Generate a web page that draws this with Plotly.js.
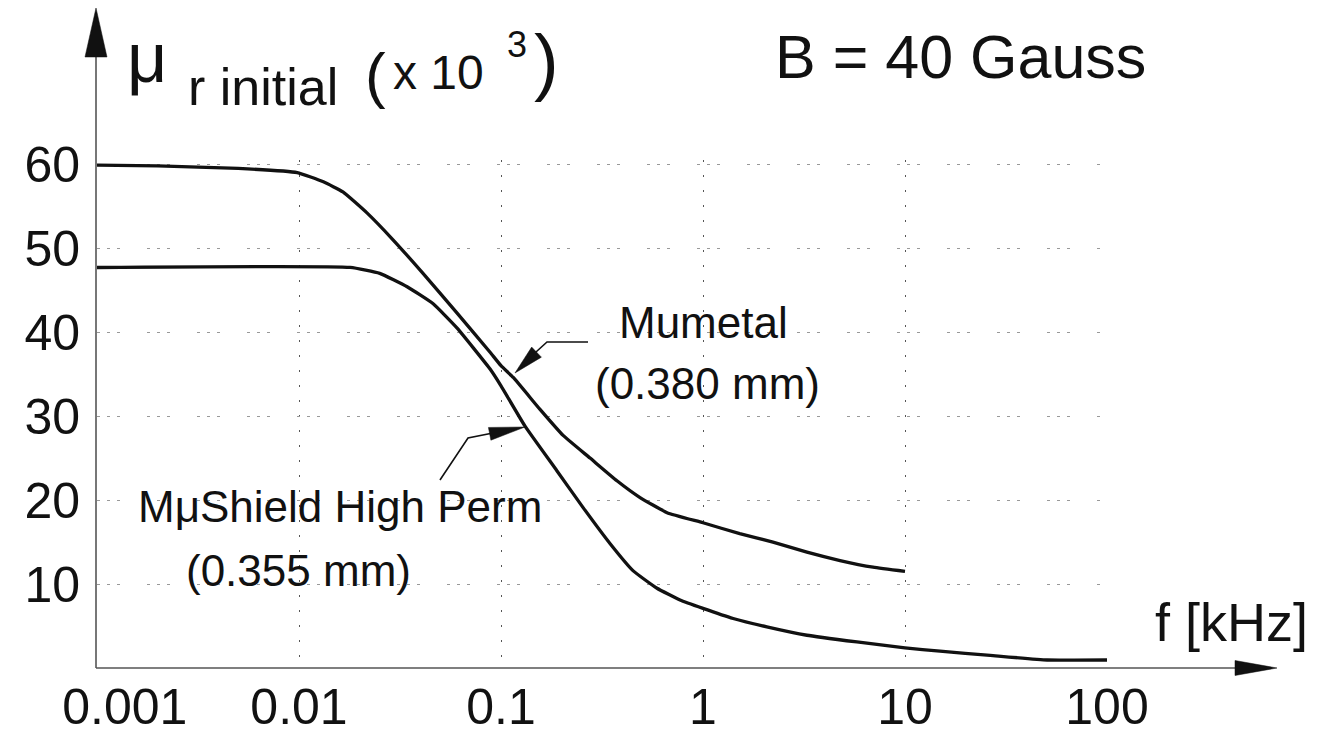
<!DOCTYPE html>
<html>
<head>
<meta charset="utf-8">
<script src="https://cdn.plot.ly/plotly-3.0.1.min.js"></script>
<style>
  html, body { margin: 0; padding: 0; background: #fff; }
  #chart { width: 1317px; height: 734px; }
</style>
</head>
<body>
<div id="chart"></div>
<script>
// ---- data ----
const mumetalFreq = [0.001, 0.002, 0.005, 0.0098, 0.0132, 0.0165, 0.0217, 0.0292, 0.0411, 0.0605, 0.0883, 0.1, 0.115, 0.156, 0.203, 0.276, 0.375, 0.488, 0.664, 1.0, 1.52, 2.22, 3.27, 4.77, 6.95, 10];
const mumetalMu   = [59.9, 59.8, 59.5, 59.0, 57.9, 56.7, 54.2, 51.0, 47.0, 42.3, 37.6, 36.0, 34.6, 30.8, 27.7, 25.0, 22.3, 20.3, 18.5, 17.3, 16.0, 15.0, 13.8, 12.8, 12.0, 11.5];

const mushieldFreq = [0.001, 0.0179, 0.0251, 0.0343, 0.046, 0.0605, 0.0883, 0.1, 0.1315, 0.189, 0.255, 0.347, 0.45, 0.592, 0.77, 1.0, 1.41, 2.07, 3.27, 5.78, 10, 14.9, 26.4, 50.5, 100];
const mushieldMu   = [47.7, 47.7, 47.0, 45.4, 43.4, 40.5, 35.6, 33.6, 28.8, 23.5, 19.1, 14.8, 11.6, 9.5, 8.1, 7.1, 5.9, 4.9, 3.9, 3.1, 2.4, 2.0, 1.5, 0.95, 0.95];

const xTickVals = [0.001, 0.01, 0.1, 1, 10, 100];
const xTickText = ['\u00a0\u00a0\u00a0\u00a00.001', '0.01', '0.1', '1', '10', '100'];
const yTickVals = [10, 20, 30, 40, 50, 60];
const yTickText = ['10', '20', '30', '40', '50', '60'];

// ---- layout helpers (page pixels -> paper fractions) ----
const L = 97, R = 1107, T = 160, B = 668;
const X = px => (px - L) / (R - L);
const Y = py => (B - py) / (B - T);
const FONT = 'Liberation Sans, Arial, Helvetica, sans-serif';
const INK = '#111';

function polyPath(pts) {
  return pts.map((p, i) => (i ? 'L' : 'M') + X(p[0]).toFixed(5) + ',' + Y(p[1]).toFixed(5)).join(' ');
}
function headPath(tail, tip, len, half) {
  const dx = tip[0] - tail[0], dy = tip[1] - tail[1];
  const d = Math.hypot(dx, dy), ux = dx / d, uy = dy / d;
  const bx = tip[0] - ux * len, by = tip[1] - uy * len;
  const px = -uy, py = ux;
  return polyPath([tip, [bx + px * half, by + py * half], [bx - px * half, by - py * half]]) + ' Z';
}
function lineShape(pts, color, width) {
  return { type: 'path', xref: 'paper', yref: 'paper', path: polyPath(pts), line: { color: color, width: width }, layer: 'above' };
}
function fillShape(path) {
  return { type: 'path', xref: 'paper', yref: 'paper', path: path, fillcolor: INK, line: { color: INK, width: 0.5 }, layer: 'above' };
}
function label(text, cx, cy, size) {
  return { text: text, xref: 'paper', yref: 'paper', x: X(cx), y: Y(cy), xanchor: 'center', yanchor: 'middle',
           showarrow: false, font: { family: FONT, size: size, color: INK } };
}

const traces = [
  { x: mumetalFreq, y: mumetalMu, name: 'Mumetal (0.380 mm)', type: 'scatter', mode: 'lines',
    line: { color: INK, width: 3.3, shape: 'spline', smoothing: 0.4 }, hoverinfo: 'x+y' },
  { x: mushieldFreq, y: mushieldMu, name: 'M\u03bcShield High Perm (0.355 mm)', type: 'scatter', mode: 'lines',
    line: { color: INK, width: 3.3, shape: 'spline', smoothing: 0.4 }, hoverinfo: 'x+y' }
];

const shapes = [
  // axes with arrows
  lineShape([[96, 668], [96, 50]], '#555', 1.6),
  fillShape(headPath([96, 57], [96, 8], 49, 11)),
  lineShape([[96, 668], [1240, 668]], '#555', 1.6),
  fillShape(headPath([1235, 668], [1277, 668], 42, 7.5)),
  // pointer for Mumetal
  lineShape([[588, 342], [547, 342], [525, 362]], INK, 1.6),
  fillShape(headPath([547, 342], [515, 373], 30, 7)),
  // pointer for MuShield
  lineShape([[440, 480], [468, 438], [498, 432]], INK, 1.6),
  fillShape(headPath([468, 438], [525, 427], 36, 6.5))
];

const annotations = [
  label('B = 40 Gauss', 960, 57, 61),
  label('Mumetal', 703, 322, 44),
  label('(0.380 mm)', 707, 383, 44),
  label('M\u03bcShield High Perm', 340, 506, 44),
  label('(0.355 mm)', 298, 570, 44),
  label('f [kHz]', 1231, 622, 54),
  // y-axis title pieces
  label('\u03bc', 147, 58, 70),
  label('r initial', 263, 87, 52),
  label('(', 375, 74, 62),
  label('x 10', 438, 72, 48),
  label('3', 517, 45, 36),
  label(')', 546, 62, 74)
];

const layout = {
  width: 1317, height: 734,
  margin: { l: L, r: 1317 - R, t: T, b: 734 - B, pad: 0 },
  paper_bgcolor: '#fff', plot_bgcolor: '#fff',
  showlegend: false,
  font: { family: FONT, color: INK },
  xaxis: {
    type: 'log', range: [-3, 2], tickmode: 'array', tickvals: xTickVals, ticktext: xTickText,
    showgrid: true, gridcolor: '#555', gridwidth: 1, griddash: '2px,13px',
    zeroline: false, showline: false, ticks: '', ticklabelstandoff: 5,
    tickfont: { family: FONT, size: 50, color: INK }, fixedrange: true
  },
  yaxis: {
    range: [0, 60.5], tickmode: 'array', tickvals: yTickVals, ticktext: yTickText,
    showgrid: true, gridcolor: '#999', gridwidth: 1, griddash: '3px,7px,3px,7px,3px,27px',
    zeroline: false, showline: false, ticks: '', ticklabelstandoff: 16,
    tickfont: { family: FONT, size: 50, color: INK }, fixedrange: true
  },
  shapes: shapes,
  annotations: annotations
};

Plotly.newPlot('chart', traces, layout, { displayModeBar: false, staticPlot: true });
</script>
</body>
</html>
